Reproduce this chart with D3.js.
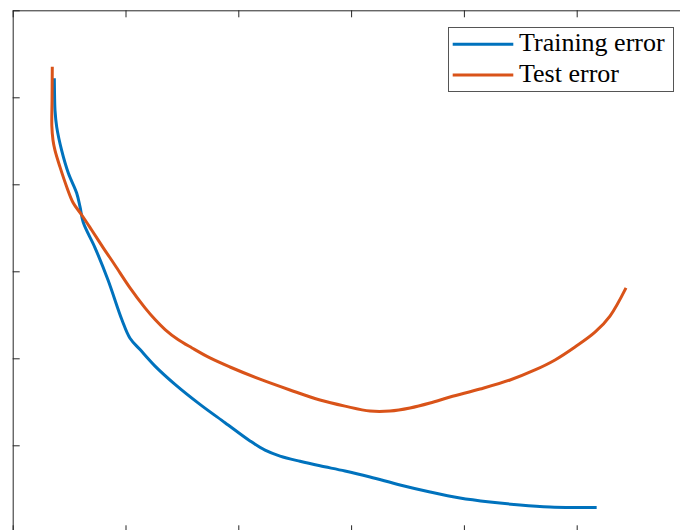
<!DOCTYPE html>
<html>
<head>
<meta charset="utf-8">
<script src="https://cdn.jsdelivr.net/npm/d3@7/dist/d3.min.js"></script>
<style>
  html, body { margin: 0; padding: 0; background: #fff; }
  svg { display: block; }
</style>
</head>
<body>
<svg id="chart" width="680" height="530"></svg>
<script>
// Training / test error versus model complexity
const seriesNames = ["Training error", "Test error"];
const seriesColors = ["#0072BD", "#D95319"];

const trainX = [3.69, 3.71, 3.75, 3.90, 4.34, 4.93, 5.67, 5.97, 6.26, 7.30, 8.45, 9.69, 10.40, 11.29,
  12.62, 14.39, 16.60, 18.82, 21.04, 22.37, 23.70, 25.47, 27.24, 29.46, 31.68, 34.34, 37.00,
  39.65, 42.31, 44.97, 47.63, 49.85, 51.77];
const trainY = [0.522, 0.503, 0.485, 0.466, 0.439, 0.413, 0.390, 0.374, 0.356, 0.327, 0.290, 0.244,
  0.223, 0.210, 0.191, 0.170, 0.147, 0.126, 0.1050, 0.0944, 0.0876, 0.0816, 0.0764, 0.0705, 0.0636,
  0.0544, 0.0463, 0.0394, 0.0348, 0.0314, 0.0291, 0.0285, 0.0285];

const testX = [3.51, 3.49, 3.47, 3.57, 3.75, 4.19, 4.79, 5.37, 6.12, 7.00, 8.03, 9.07, 10.40, 11.73,
  12.62, 13.51, 14.65, 15.90, 17.49, 19.26, 21.92, 24.58, 27.24, 29.46, 31.68, 33.45, 35.22, 37.00,
  38.77, 41.43, 44.09, 46.30, 48.08, 49.85, 51.62, 52.95, 54.37];
const testY = [0.535, 0.497, 0.467, 0.451, 0.439, 0.420, 0.397, 0.3785, 0.3647, 0.3475, 0.327, 0.307,
  0.281, 0.258, 0.2446, 0.2331, 0.2216, 0.2119, 0.2004, 0.190, 0.176, 0.1636, 0.152, 0.145, 0.1394,
  0.1394, 0.1429, 0.1486, 0.1555, 0.1647, 0.1751, 0.1866, 0.1981, 0.2130, 0.230, 0.2486, 0.281];

const xTicks = [0, 10, 20, 30, 40, 50, 60];
const yTicks = [0, 0.1, 0.2, 0.3, 0.4, 0.5, 0.6];

const svg = d3.select("#chart");
const plotLeft = 12.7, plotTop = 10.3, plotWidth = 676.8, plotHeight = 522;

const x = d3.scaleLinear().domain([0, 60]).range([plotLeft, plotLeft + plotWidth]);
const y = d3.scaleLinear().domain([0, 0.6]).range([plotTop + plotHeight, plotTop]);

const axisColor = "#262626";
const noLabel = () => "";

function styleAxis(g) {
  g.select(".domain").attr("stroke", axisColor).attr("stroke-width", 1);
  g.selectAll(".tick line").attr("stroke", axisColor).attr("stroke-width", 1);
  g.selectAll(".tick text").remove();
}

// Box axes with inward ticks and no labels
svg.append("g").attr("transform", `translate(0,${plotTop})`)
  .call(d3.axisTop(x).tickValues(xTicks).tickSizeInner(-7).tickSizeOuter(0).tickFormat(noLabel))
  .call(styleAxis);
svg.append("g").attr("transform", `translate(0,${plotTop + plotHeight})`)
  .call(d3.axisBottom(x).tickValues(xTicks).tickSizeInner(-7).tickSizeOuter(0).tickFormat(noLabel))
  .call(styleAxis);
svg.append("g").attr("transform", `translate(${plotLeft},0)`)
  .call(d3.axisLeft(y).tickValues(yTicks).tickSizeInner(-7).tickSizeOuter(0).tickFormat(noLabel))
  .call(styleAxis);
svg.append("g").attr("transform", `translate(${plotLeft + plotWidth},0)`)
  .call(d3.axisRight(y).tickValues(yTicks).tickSizeInner(-7).tickSizeOuter(0).tickFormat(noLabel))
  .call(styleAxis);

const line = d3.line()
  .x(d => x(d[0]))
  .y(d => y(d[1]))
  .curve(d3.curveCatmullRom.alpha(0.5));

const series = [
  d3.zip(trainX, trainY),
  d3.zip(testX, testY)
];

series.forEach((pts, i) => {
  svg.append("path")
    .datum(pts)
    .attr("fill", "none")
    .attr("stroke", seriesColors[i])
    .attr("stroke-width", 3)
    .attr("stroke-linejoin", "round")
    .attr("d", line);
});

// Legend
const legend = svg.append("g");
legend.append("rect")
  .attr("x", 448.5).attr("y", 27.5)
  .attr("width", 225).attr("height", 64)
  .attr("fill", "#fff")
  .attr("stroke", "#555")
  .attr("stroke-width", 1);

const rowY = [44.3, 75];
seriesNames.forEach((name, i) => {
  legend.append("line")
    .attr("x1", 452.7).attr("x2", 513.3)
    .attr("y1", rowY[i]).attr("y2", rowY[i])
    .attr("stroke", seriesColors[i])
    .attr("stroke-width", 3);
  legend.append("text")
    .attr("x", 519)
    .attr("y", rowY[i] + 7)
    .attr("font-family", "'Liberation Serif', 'DejaVu Serif', serif")
    .attr("font-size", 26)
    .attr("fill", "#000")
    .text(name);
});
</script>
</body>
</html>
